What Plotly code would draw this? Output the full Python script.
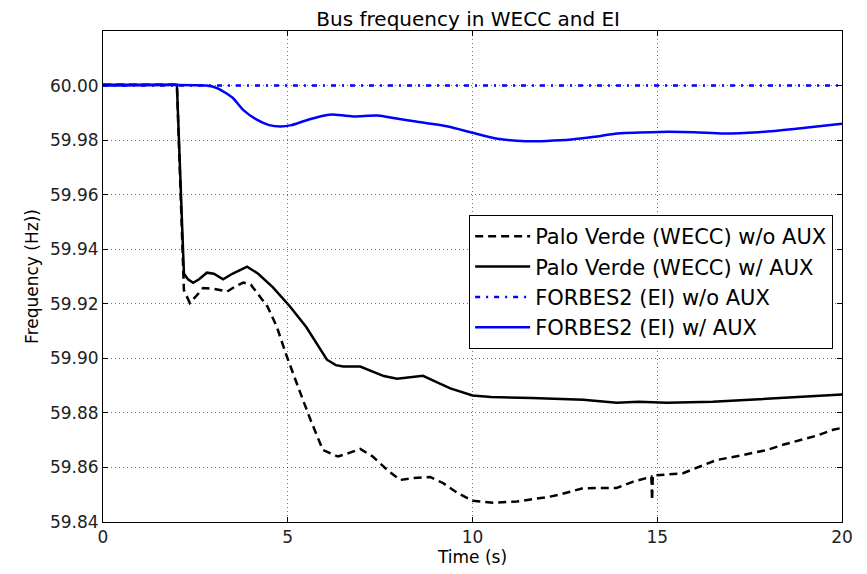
import plotly.graph_objects as go

# ---- data ----
t_pv_aux = [0, 2.0, 2.19, 2.3, 2.44, 2.6, 2.81, 3.0, 3.25, 3.5, 3.9, 4.2, 4.6, 5.06, 5.5, 5.8,
            6.06, 6.3, 6.5, 6.96, 7.3, 7.6, 7.96, 8.3, 8.66, 9.0, 9.4, 10.0, 10.5, 11.6, 12.5,
            13.0, 13.9, 14.5, 15.26, 16.5, 17.5, 19.0, 20.0]
f_pv_aux = [60.0003, 60.0003, 59.931, 59.929, 59.9277, 59.929, 59.9314, 59.931, 59.929, 59.931,
            59.9336, 59.931, 59.926, 59.919, 59.9115, 59.905, 59.8995, 59.8975, 59.897, 59.897,
            59.8951, 59.8935, 59.8925, 59.893, 59.8936, 59.8915, 59.889, 59.8864, 59.8858, 59.8855,
            59.8851, 59.8848, 59.8837, 59.8841, 59.8837, 59.8841, 59.8848, 59.8858, 59.8867]

t_pv_noaux = [0, 2.0, 2.19, 2.35, 2.5, 2.71, 3.0, 3.36, 3.6, 3.8, 4.0, 4.17, 4.45, 4.7, 4.98,
              5.3, 5.6, 5.95, 6.36, 6.7, 6.96, 7.3, 7.7, 8.04, 8.4, 8.85, 9.2, 9.6, 10.0, 10.56,
              11.2, 12.1, 12.4, 13.0, 13.9, 14.35, 14.8, 14.84, 14.86, 14.88, 15.7, 16.6,
              17.3, 17.97, 18.4, 19.3, 19.76, 20.0]
f_pv_noaux = [60.0003, 60.0003, 59.925, 59.9203, 59.9225, 59.9258, 59.9255, 59.9245, 59.9265,
              59.9278, 59.927, 59.9239, 59.919, 59.9117, 59.9005, 59.8888, 59.878, 59.8664,
              59.864, 59.8655, 59.8668, 59.864, 59.859, 59.8554, 59.8561, 59.8565, 59.8543,
              59.8506, 59.8478, 59.8471, 59.8475, 59.8493, 59.8502, 59.8524, 59.8525, 59.8548,
              59.8566, 59.8566, 59.848, 59.857, 59.8579, 59.8627, 59.8645, 59.8664, 59.8683,
              59.8716, 59.8738, 59.8745]

t_fb_noaux = [0, 20.0]
f_fb_noaux = [60.0, 60.0]

t_fb_aux = [0, 2.8, 3.1, 3.5, 3.8, 4.16, 4.5, 4.8, 5.1, 5.4, 5.7, 6.06, 6.2, 6.77, 7.43, 7.9,
            8.47, 9.34, 10.0, 10.68, 11.44, 12.0, 12.68, 13.3, 13.92, 15.04, 16.0, 16.78,
            17.74, 18.7, 20.0]
f_fb_aux = [60.0, 60.0, 59.999, 59.9956, 59.991, 59.9875, 59.9855, 59.985, 59.9855, 59.9868,
            59.988, 59.9892, 59.9894, 59.9887, 59.989, 59.988, 59.9868, 59.985, 59.9827,
            59.9805, 59.9796, 59.9797, 59.9802, 59.9812, 59.9824, 59.983, 59.9829, 59.9824,
            59.9829, 59.9841, 59.986]

names = ["Palo Verde (WECC) w/o AUX", "Palo Verde (WECC) w/ AUX",
         "FORBES2 (EI) w/o AUX", "FORBES2 (EI) w/ AUX"]

x_ticks = [0, 5, 10, 15, 20]
y_ticks = [59.84, 59.86, 59.88, 59.90, 59.92, 59.94, 59.96, 59.98, 60.00]

FONT = "DejaVu Sans"

fig = go.Figure()
fig.add_trace(go.Scatter(x=t_pv_noaux, y=f_pv_noaux, mode="lines", name=names[0],
                         line=dict(color="black", width=2.5, dash="8px,5px")))
fig.add_trace(go.Scatter(x=t_pv_aux, y=f_pv_aux, mode="lines", name=names[1],
                         line=dict(color="black", width=2.5)))
fig.add_trace(go.Scatter(x=t_fb_noaux, y=f_fb_noaux, mode="lines", name=names[2],
                         line=dict(color="#0000ff", width=2.5, dash="5px,6px,2px,6px")))
fig.add_trace(go.Scatter(x=t_fb_aux, y=f_fb_aux, mode="lines", name=names[3],
                         line=dict(color="#0000ff", width=2.5, shape="spline", smoothing=0.6)))

axis_common = dict(
    showline=True, linecolor="black", linewidth=1, mirror="ticks",
    ticks="inside", ticklen=5, tickcolor="black", tickwidth=1,
    showgrid=True, gridcolor="rgba(0,0,0,0.55)", gridwidth=1, griddash="1px,3px",
    zeroline=False, tickfont=dict(family=FONT, size=17, color="#222"),
)

fig.update_layout(
    width=867, height=574,
    margin=dict(l=103, r=25, t=31, b=52),
    paper_bgcolor="white", plot_bgcolor="white",
    font=dict(family=FONT, color="black"),
    title=dict(text="Bus frequency in WECC and EI", x=0.54, xanchor="center",
               y=0.967, yanchor="middle", font=dict(family=FONT, size=20, color="black")),
    xaxis=dict(range=[0, 20], tickvals=x_ticks, ticktext=[str(v) for v in x_ticks],
               title=dict(text="Time (s)", font=dict(family=FONT, size=17), standoff=4),
               **axis_common),
    yaxis=dict(range=[59.84, 60.02], tickvals=y_ticks, ticktext=[f"{v:.2f}" for v in y_ticks],
               title=dict(text="Frequency (Hz))", font=dict(family=FONT, size=17), standoff=6),
               **axis_common),
    legend=dict(x=0.988, xanchor="right", y=0.625, yanchor="top",
                bgcolor="white", bordercolor="black", borderwidth=1, itemwidth=55,
                font=dict(family=FONT, size=21, color="black"), tracegroupgap=0),
    showlegend=True,
)

fig.write_html("out.html")
